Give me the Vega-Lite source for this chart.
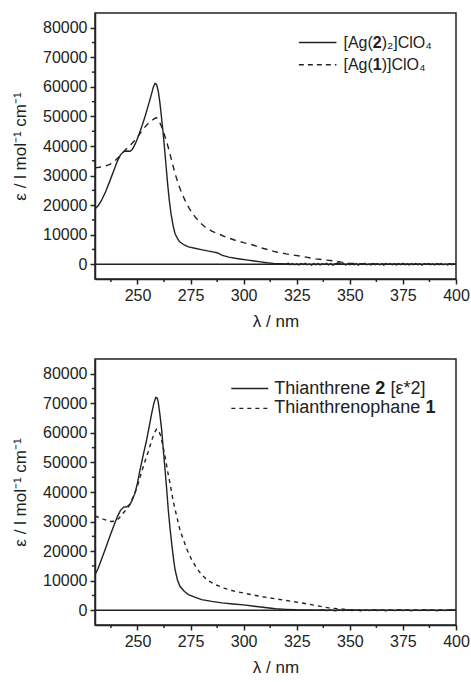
{
  "$schema": "https://vega.github.io/schema/vega-lite/v6.json",
  "padding": {"left": 10, "top": 12, "right": 0, "bottom": 0},
  "spacing": 28,
  "config": {
    "font": "Liberation Sans",
    "view": {"stroke": "#222", "strokeWidth": 1.5},
    "axis": {
      "grid": false,
      "domainColor": "#222",
      "domainWidth": 1.5,
      "tickColor": "#222",
      "tickWidth": 1.5,
      "tickSize": 5,
      "labelFont": "Liberation Sans",
      "labelFontSize": 16,
      "labelColor": "#222",
      "labelOverlap": false,
      "labelPadding": 3,
      "titleFont": "Liberation Sans",
      "titleFontSize": 17,
      "titleFontWeight": "normal",
      "titleColor": "#222"
    },
    "axisX": {"labelFlush": false, "titlePadding": 10},
    "axisY": {"format": "d", "titlePadding": 13},
    "text": {"font": "Liberation Sans", "color": "#222"}
  },
  "datasets": {
    "minorX": [{"nm": 237.5}, {"nm": 262.5}, {"nm": 287.5}, {"nm": 312.5}, {"nm": 337.5}, {"nm": 362.5}, {"nm": 387.5}],
    "minorY": [{"eps": 5000}, {"eps": 15000}, {"eps": 25000}, {"eps": 35000}, {"eps": 45000}, {"eps": 55000}, {"eps": 65000}, {"eps": 75000}],
    "top": [
      {"s": "a", "nm": 230, "eps": 18800}, {"s": "a", "nm": 231.5, "eps": 19800}, {"s": "a", "nm": 233, "eps": 21500},
      {"s": "a", "nm": 235, "eps": 24500}, {"s": "a", "nm": 237, "eps": 28200}, {"s": "a", "nm": 239, "eps": 32000},
      {"s": "a", "nm": 240.5, "eps": 34800}, {"s": "a", "nm": 242, "eps": 37000}, {"s": "a", "nm": 243.5, "eps": 38100},
      {"s": "a", "nm": 245, "eps": 38300}, {"s": "a", "nm": 246.5, "eps": 38200}, {"s": "a", "nm": 247.5, "eps": 38800},
      {"s": "a", "nm": 249, "eps": 40800}, {"s": "a", "nm": 250.5, "eps": 43500}, {"s": "a", "nm": 252, "eps": 46500},
      {"s": "a", "nm": 253.5, "eps": 49800}, {"s": "a", "nm": 255, "eps": 53500}, {"s": "a", "nm": 256.5, "eps": 57300},
      {"s": "a", "nm": 257.5, "eps": 60000}, {"s": "a", "nm": 258.3, "eps": 61200}, {"s": "a", "nm": 259, "eps": 60800},
      {"s": "a", "nm": 259.8, "eps": 58500}, {"s": "a", "nm": 260.5, "eps": 55000}, {"s": "a", "nm": 261.2, "eps": 50500},
      {"s": "a", "nm": 262, "eps": 45000}, {"s": "a", "nm": 262.7, "eps": 39600}, {"s": "a", "nm": 263.5, "eps": 33000},
      {"s": "a", "nm": 264.2, "eps": 27200}, {"s": "a", "nm": 265, "eps": 21500}, {"s": "a", "nm": 265.8, "eps": 17100},
      {"s": "a", "nm": 266.8, "eps": 13000}, {"s": "a", "nm": 267.7, "eps": 10300}, {"s": "a", "nm": 269, "eps": 8500},
      {"s": "a", "nm": 270, "eps": 7500}, {"s": "a", "nm": 272, "eps": 6500}, {"s": "a", "nm": 274, "eps": 5850},
      {"s": "a", "nm": 277, "eps": 5400}, {"s": "a", "nm": 280, "eps": 4950}, {"s": "a", "nm": 283, "eps": 4500},
      {"s": "a", "nm": 286, "eps": 4100}, {"s": "a", "nm": 287.5, "eps": 3900}, {"s": "a", "nm": 290, "eps": 3000},
      {"s": "a", "nm": 293, "eps": 2400}, {"s": "a", "nm": 296, "eps": 2000}, {"s": "a", "nm": 299, "eps": 1700},
      {"s": "a", "nm": 302, "eps": 1400}, {"s": "a", "nm": 305, "eps": 1100}, {"s": "a", "nm": 308, "eps": 800},
      {"s": "a", "nm": 311, "eps": 500}, {"s": "a", "nm": 314, "eps": 300}, {"s": "a", "nm": 317, "eps": 200},
      {"s": "a", "nm": 320, "eps": 100}, {"s": "a", "nm": 321, "eps": 300}, {"s": "a", "nm": 322, "eps": -150},
      {"s": "a", "nm": 323, "eps": 250}, {"s": "a", "nm": 324, "eps": -200}, {"s": "a", "nm": 325, "eps": 150},
      {"s": "a", "nm": 326, "eps": -250}, {"s": "a", "nm": 327, "eps": 200}, {"s": "a", "nm": 328, "eps": -100},
      {"s": "a", "nm": 329, "eps": 300}, {"s": "a", "nm": 330, "eps": -200}, {"s": "a", "nm": 331, "eps": 100},
      {"s": "a", "nm": 332, "eps": -300}, {"s": "a", "nm": 333, "eps": 250}, {"s": "a", "nm": 334, "eps": -150},
      {"s": "a", "nm": 335, "eps": 200}, {"s": "a", "nm": 336, "eps": -250}, {"s": "a", "nm": 337, "eps": 150},
      {"s": "a", "nm": 338, "eps": -100}, {"s": "a", "nm": 339, "eps": 300}, {"s": "a", "nm": 340, "eps": -200},
      {"s": "a", "nm": 341, "eps": 200}, {"s": "a", "nm": 342, "eps": -300}, {"s": "a", "nm": 343, "eps": 100},
      {"s": "a", "nm": 344, "eps": 350}, {"s": "a", "nm": 345, "eps": 400}, {"s": "a", "nm": 346, "eps": -100},
      {"s": "a", "nm": 347, "eps": 200}, {"s": "a", "nm": 348, "eps": -250}, {"s": "a", "nm": 349, "eps": 150},
      {"s": "a", "nm": 350, "eps": -200}, {"s": "a", "nm": 351, "eps": 250}, {"s": "a", "nm": 352, "eps": -150},
      {"s": "a", "nm": 353, "eps": 200}, {"s": "a", "nm": 354, "eps": -300}, {"s": "a", "nm": 355, "eps": 150},
      {"s": "a", "nm": 356, "eps": -100}, {"s": "a", "nm": 357, "eps": 300}, {"s": "a", "nm": 358, "eps": -200},
      {"s": "a", "nm": 359, "eps": 100}, {"s": "a", "nm": 360, "eps": -250}, {"s": "a", "nm": 361, "eps": 200},
      {"s": "a", "nm": 362, "eps": -150}, {"s": "a", "nm": 363, "eps": 250}, {"s": "a", "nm": 364, "eps": -200},
      {"s": "a", "nm": 365, "eps": 150}, {"s": "a", "nm": 366, "eps": -300}, {"s": "a", "nm": 367, "eps": 200},
      {"s": "a", "nm": 368, "eps": -100}, {"s": "a", "nm": 369, "eps": 250}, {"s": "a", "nm": 370, "eps": -200},
      {"s": "a", "nm": 371, "eps": 150}, {"s": "a", "nm": 372, "eps": -250}, {"s": "a", "nm": 373, "eps": 200},
      {"s": "a", "nm": 374, "eps": -150}, {"s": "a", "nm": 375, "eps": 300}, {"s": "a", "nm": 376, "eps": -200},
      {"s": "a", "nm": 377, "eps": 100}, {"s": "a", "nm": 378, "eps": -250}, {"s": "a", "nm": 379, "eps": 200},
      {"s": "a", "nm": 380, "eps": -150}, {"s": "a", "nm": 381, "eps": 250}, {"s": "a", "nm": 382, "eps": -200},
      {"s": "a", "nm": 383, "eps": 150}, {"s": "a", "nm": 384, "eps": -300}, {"s": "a", "nm": 385, "eps": 200},
      {"s": "a", "nm": 386, "eps": -100}, {"s": "a", "nm": 387, "eps": 250}, {"s": "a", "nm": 388, "eps": -200},
      {"s": "a", "nm": 389, "eps": 150}, {"s": "a", "nm": 390, "eps": -250}, {"s": "a", "nm": 391, "eps": 200},
      {"s": "a", "nm": 392, "eps": -150}, {"s": "a", "nm": 393, "eps": 250}, {"s": "a", "nm": 394, "eps": -200},
      {"s": "a", "nm": 395, "eps": 100}, {"s": "a", "nm": 396, "eps": -250}, {"s": "a", "nm": 397, "eps": 200},
      {"s": "a", "nm": 398, "eps": -150}, {"s": "a", "nm": 399, "eps": 150}, {"s": "a", "nm": 400, "eps": -100},
      {"s": "b", "nm": 230, "eps": 32600}, {"s": "b", "nm": 232, "eps": 32800}, {"s": "b", "nm": 234.5, "eps": 33100},
      {"s": "b", "nm": 237, "eps": 33800}, {"s": "b", "nm": 239.5, "eps": 35100}, {"s": "b", "nm": 242, "eps": 36800},
      {"s": "b", "nm": 244, "eps": 38500}, {"s": "b", "nm": 246.5, "eps": 40200}, {"s": "b", "nm": 248.8, "eps": 41900},
      {"s": "b", "nm": 251, "eps": 44000}, {"s": "b", "nm": 253.5, "eps": 46400}, {"s": "b", "nm": 255.5, "eps": 48000},
      {"s": "b", "nm": 257.5, "eps": 49000}, {"s": "b", "nm": 258.8, "eps": 49600}, {"s": "b", "nm": 260, "eps": 48800},
      {"s": "b", "nm": 261.4, "eps": 46400}, {"s": "b", "nm": 262.6, "eps": 44000}, {"s": "b", "nm": 263.8, "eps": 41300},
      {"s": "b", "nm": 265, "eps": 38200}, {"s": "b", "nm": 266.1, "eps": 35100}, {"s": "b", "nm": 267.5, "eps": 31200},
      {"s": "b", "nm": 269.2, "eps": 27200}, {"s": "b", "nm": 270.8, "eps": 24200}, {"s": "b", "nm": 272.4, "eps": 21600},
      {"s": "b", "nm": 274.5, "eps": 18700}, {"s": "b", "nm": 277.1, "eps": 16000}, {"s": "b", "nm": 279.5, "eps": 14100},
      {"s": "b", "nm": 281.8, "eps": 12600}, {"s": "b", "nm": 285, "eps": 11200}, {"s": "b", "nm": 288, "eps": 10300},
      {"s": "b", "nm": 292, "eps": 9100}, {"s": "b", "nm": 296, "eps": 8100}, {"s": "b", "nm": 300, "eps": 7300},
      {"s": "b", "nm": 304, "eps": 6600}, {"s": "b", "nm": 308, "eps": 5600}, {"s": "b", "nm": 311.3, "eps": 4950},
      {"s": "b", "nm": 315, "eps": 4200}, {"s": "b", "nm": 320, "eps": 3500}, {"s": "b", "nm": 327, "eps": 2700},
      {"s": "b", "nm": 334, "eps": 1800}, {"s": "b", "nm": 342.6, "eps": 1100}, {"s": "b", "nm": 346, "eps": 700},
      {"s": "b", "nm": 350, "eps": 300}, {"s": "b", "nm": 355, "eps": 150}, {"s": "b", "nm": 360, "eps": 50},
      {"s": "b", "nm": 370, "eps": 0}, {"s": "b", "nm": 400, "eps": 0}
    ],
    "bottom": [
      {"s": "c", "nm": 230, "eps": 12000}, {"s": "c", "nm": 231.5, "eps": 14200}, {"s": "c", "nm": 233, "eps": 17100},
      {"s": "c", "nm": 235, "eps": 21000}, {"s": "c", "nm": 237, "eps": 25000}, {"s": "c", "nm": 239, "eps": 28800},
      {"s": "c", "nm": 240.5, "eps": 31600}, {"s": "c", "nm": 242, "eps": 33800}, {"s": "c", "nm": 243.5, "eps": 34900},
      {"s": "c", "nm": 245, "eps": 35000}, {"s": "c", "nm": 246.5, "eps": 35800}, {"s": "c", "nm": 247.5, "eps": 37200},
      {"s": "c", "nm": 248.8, "eps": 39600}, {"s": "c", "nm": 250, "eps": 43000}, {"s": "c", "nm": 251.2, "eps": 47500},
      {"s": "c", "nm": 252.7, "eps": 52500}, {"s": "c", "nm": 254.3, "eps": 57600}, {"s": "c", "nm": 255.5, "eps": 62000},
      {"s": "c", "nm": 256.7, "eps": 66600}, {"s": "c", "nm": 257.7, "eps": 70000}, {"s": "c", "nm": 258.6, "eps": 72000},
      {"s": "c", "nm": 259.3, "eps": 71800}, {"s": "c", "nm": 259.8, "eps": 70300}, {"s": "c", "nm": 260.6, "eps": 66000},
      {"s": "c", "nm": 261.4, "eps": 61000}, {"s": "c", "nm": 262.2, "eps": 54000}, {"s": "c", "nm": 263, "eps": 47500},
      {"s": "c", "nm": 263.8, "eps": 40500}, {"s": "c", "nm": 264.5, "eps": 34000}, {"s": "c", "nm": 265.3, "eps": 28000},
      {"s": "c", "nm": 266.1, "eps": 22700}, {"s": "c", "nm": 266.9, "eps": 17800}, {"s": "c", "nm": 267.7, "eps": 13700},
      {"s": "c", "nm": 268.8, "eps": 10300}, {"s": "c", "nm": 270, "eps": 8100}, {"s": "c", "nm": 272, "eps": 6400},
      {"s": "c", "nm": 274, "eps": 5300}, {"s": "c", "nm": 277, "eps": 4400}, {"s": "c", "nm": 280.2, "eps": 3600},
      {"s": "c", "nm": 285, "eps": 3000}, {"s": "c", "nm": 289.7, "eps": 2500}, {"s": "c", "nm": 295, "eps": 2100},
      {"s": "c", "nm": 300, "eps": 1800}, {"s": "c", "nm": 305, "eps": 1350}, {"s": "c", "nm": 310, "eps": 900},
      {"s": "c", "nm": 315, "eps": 500}, {"s": "c", "nm": 320, "eps": 300}, {"s": "c", "nm": 325, "eps": 150},
      {"s": "c", "nm": 330, "eps": 80}, {"s": "c", "nm": 335, "eps": 0}, {"s": "c", "nm": 337, "eps": 150},
      {"s": "c", "nm": 339, "eps": -100}, {"s": "c", "nm": 341, "eps": 120}, {"s": "c", "nm": 343, "eps": -150},
      {"s": "c", "nm": 345, "eps": 100}, {"s": "c", "nm": 347, "eps": -120}, {"s": "c", "nm": 349, "eps": 150},
      {"s": "c", "nm": 351, "eps": -100}, {"s": "c", "nm": 353, "eps": 120}, {"s": "c", "nm": 355, "eps": -150},
      {"s": "c", "nm": 357, "eps": 100}, {"s": "c", "nm": 359, "eps": -120}, {"s": "c", "nm": 361, "eps": 150},
      {"s": "c", "nm": 363, "eps": -100}, {"s": "c", "nm": 365, "eps": 120}, {"s": "c", "nm": 367, "eps": -150},
      {"s": "c", "nm": 369, "eps": 100}, {"s": "c", "nm": 371, "eps": -120}, {"s": "c", "nm": 373, "eps": 150},
      {"s": "c", "nm": 375, "eps": -100}, {"s": "c", "nm": 377, "eps": 120}, {"s": "c", "nm": 379, "eps": -150},
      {"s": "c", "nm": 381, "eps": 100}, {"s": "c", "nm": 383, "eps": -120}, {"s": "c", "nm": 385, "eps": 150},
      {"s": "c", "nm": 387, "eps": -100}, {"s": "c", "nm": 389, "eps": 120}, {"s": "c", "nm": 391, "eps": -150},
      {"s": "c", "nm": 393, "eps": 100}, {"s": "c", "nm": 395, "eps": -120}, {"s": "c", "nm": 397, "eps": 150},
      {"s": "c", "nm": 400, "eps": 0},
      {"s": "d", "nm": 230, "eps": 31900}, {"s": "d", "nm": 232, "eps": 31300}, {"s": "d", "nm": 233.9, "eps": 30800},
      {"s": "d", "nm": 236, "eps": 30300}, {"s": "d", "nm": 237.8, "eps": 30000}, {"s": "d", "nm": 239, "eps": 30100},
      {"s": "d", "nm": 240.2, "eps": 30500}, {"s": "d", "nm": 241.5, "eps": 31300}, {"s": "d", "nm": 242.6, "eps": 32300},
      {"s": "d", "nm": 244, "eps": 33500}, {"s": "d", "nm": 245.7, "eps": 34900}, {"s": "d", "nm": 247, "eps": 36800},
      {"s": "d", "nm": 248.8, "eps": 39600}, {"s": "d", "nm": 250.5, "eps": 43200}, {"s": "d", "nm": 252, "eps": 46900},
      {"s": "d", "nm": 253.5, "eps": 50300}, {"s": "d", "nm": 255.1, "eps": 53700}, {"s": "d", "nm": 256.5, "eps": 57000},
      {"s": "d", "nm": 257.9, "eps": 59900}, {"s": "d", "nm": 259, "eps": 61300}, {"s": "d", "nm": 259.5, "eps": 61200},
      {"s": "d", "nm": 260.3, "eps": 60200}, {"s": "d", "nm": 261.1, "eps": 58700}, {"s": "d", "nm": 262, "eps": 55500},
      {"s": "d", "nm": 263, "eps": 52000}, {"s": "d", "nm": 264.2, "eps": 47000}, {"s": "d", "nm": 265.3, "eps": 43000},
      {"s": "d", "nm": 266.8, "eps": 37000}, {"s": "d", "nm": 268.5, "eps": 31700}, {"s": "d", "nm": 270, "eps": 27200},
      {"s": "d", "nm": 271.6, "eps": 23900}, {"s": "d", "nm": 273.5, "eps": 20200}, {"s": "d", "nm": 275.5, "eps": 17100},
      {"s": "d", "nm": 277.8, "eps": 14300}, {"s": "d", "nm": 280.2, "eps": 12000}, {"s": "d", "nm": 283, "eps": 10100},
      {"s": "d", "nm": 286.5, "eps": 8700}, {"s": "d", "nm": 291, "eps": 7400}, {"s": "d", "nm": 295.9, "eps": 6400},
      {"s": "d", "nm": 300, "eps": 5800}, {"s": "d", "nm": 305, "eps": 5100}, {"s": "d", "nm": 311, "eps": 4300},
      {"s": "d", "nm": 320, "eps": 3300}, {"s": "d", "nm": 327, "eps": 2500}, {"s": "d", "nm": 334, "eps": 1600},
      {"s": "d", "nm": 340, "eps": 800}, {"s": "d", "nm": 345, "eps": 450}, {"s": "d", "nm": 350, "eps": 200},
      {"s": "d", "nm": 355, "eps": 80}, {"s": "d", "nm": 360, "eps": 0}, {"s": "d", "nm": 400, "eps": 0}
    ],
    "topKey": [
      {"s": "a", "nm": 326, "nm2": 343.7, "eps": 75000},
      {"s": "b", "nm": 326, "nm2": 343.7, "eps": 67500}
    ],
    "topText": [
      {"w": "n", "nm": 347, "eps": 75000, "t": "[Ag("},
      {"w": "b", "nm": 360.8, "eps": 75000, "t": "2"},
      {"w": "n", "nm": 365.0, "eps": 75000, "t": ")₂]ClO₄"},
      {"w": "n", "nm": 347, "eps": 67500, "t": "[Ag("},
      {"w": "b", "nm": 360.8, "eps": 67500, "t": "1"},
      {"w": "n", "nm": 365.0, "eps": 67500, "t": ")]ClO₄"}
    ],
    "bottomKey": [
      {"s": "c", "nm": 294.2, "nm2": 311.6, "eps": 75000},
      {"s": "d", "nm": 294.2, "nm2": 311.6, "eps": 68300}
    ],
    "bottomText": [
      {"w": "n", "nm": 314.4, "eps": 75000, "t": "Thianthrene"},
      {"w": "b", "nm": 362.0, "eps": 75000, "t": "2"},
      {"w": "n", "nm": 369.1, "eps": 75000, "t": "[ε*2]"},
      {"w": "n", "nm": 314.4, "eps": 68300, "t": "Thianthrenophane"},
      {"w": "b", "nm": 385.6, "eps": 68300, "t": "1"}
    ]
  },
  "vconcat": [
    {
      "width": 361,
      "height": 266,
      "layer": [
        {
          "data": {"name": "top"},
          "transform": [{"filter": "datum.s === 'a'"}],
          "mark": {"type": "line", "color": "#222", "strokeWidth": 1.4, "clip": true},
          "encoding": {
            "x": {"field": "nm", "type": "quantitative", "scale": {"domain": [230, 400], "nice": false, "zero": false}, "title": "λ / nm",
              "axis": {"values": [250, 275, 300, 325, 350, 375, 400]}},
            "y": {"field": "eps", "type": "quantitative", "scale": {"domain": [-5000, 85000], "nice": false, "zero": false}, "title": "ε / l mol⁻¹ cm⁻¹"}
          }
        },
        {
          "data": {"values": [{"eps": 0}]},
          "mark": {"type": "rule", "color": "#222", "strokeWidth": 1.5},
          "encoding": {"y": {"field": "eps", "type": "quantitative", "title": "ε / l mol⁻¹ cm⁻¹"}}
        },
        {
          "data": {"name": "minorX"},
          "mark": {"type": "rule", "color": "#222", "strokeWidth": 1.5, "clip": false},
          "encoding": {
            "x": {"field": "nm", "type": "quantitative", "title": "λ / nm"},
            "y": {"datum": -5000, "type": "quantitative"},
            "y2": {"datum": -6000}
          }
        },
        {
          "data": {"name": "minorY"},
          "mark": {"type": "rule", "color": "#222", "strokeWidth": 1.5, "clip": false},
          "encoding": {
            "y": {"field": "eps", "type": "quantitative", "title": "ε / l mol⁻¹ cm⁻¹"},
            "x": {"datum": 230, "type": "quantitative"},
            "x2": {"datum": 228.6}
          }
        },
        {
          "data": {"name": "top"},
          "transform": [{"filter": "datum.s === 'b'"}],
          "mark": {"type": "line", "color": "#222", "strokeWidth": 1.4, "strokeDash": [6, 5], "clip": true},
          "encoding": {
            "x": {"field": "nm", "type": "quantitative", "title": "λ / nm"},
            "y": {"field": "eps", "type": "quantitative", "title": "ε / l mol⁻¹ cm⁻¹"}
          }
        },
        {
          "data": {"name": "topKey"},
          "transform": [{"filter": "datum.s === 'a'"}],
          "mark": {"type": "rule", "color": "#222", "strokeWidth": 1.4},
          "encoding": {
            "x": {"field": "nm", "type": "quantitative", "title": "λ / nm"},
            "x2": {"field": "nm2"},
            "y": {"field": "eps", "type": "quantitative", "title": "ε / l mol⁻¹ cm⁻¹"}
          }
        },
        {
          "data": {"name": "topKey"},
          "transform": [{"filter": "datum.s === 'b'"}],
          "mark": {"type": "rule", "color": "#222", "strokeWidth": 1.4, "strokeDash": [5, 4]},
          "encoding": {
            "x": {"field": "nm", "type": "quantitative", "title": "λ / nm"},
            "x2": {"field": "nm2"},
            "y": {"field": "eps", "type": "quantitative", "title": "ε / l mol⁻¹ cm⁻¹"}
          }
        },
        {
          "data": {"name": "topText"},
          "transform": [{"filter": "datum.w === 'n'"}],
          "mark": {"type": "text", "align": "left", "baseline": "middle", "fontSize": 16, "color": "#222"},
          "encoding": {
            "x": {"field": "nm", "type": "quantitative", "title": "λ / nm"},
            "y": {"field": "eps", "type": "quantitative", "title": "ε / l mol⁻¹ cm⁻¹"},
            "text": {"field": "t"}
          }
        },
        {
          "data": {"name": "topText"},
          "transform": [{"filter": "datum.w === 'b'"}],
          "mark": {"type": "text", "align": "left", "baseline": "middle", "fontSize": 16, "fontWeight": "bold", "color": "#222"},
          "encoding": {
            "x": {"field": "nm", "type": "quantitative", "title": "λ / nm"},
            "y": {"field": "eps", "type": "quantitative", "title": "ε / l mol⁻¹ cm⁻¹"},
            "text": {"field": "t"}
          }
        }
      ]
    },
    {
      "width": 361,
      "height": 266,
      "layer": [
        {
          "data": {"name": "bottom"},
          "transform": [{"filter": "datum.s === 'c'"}],
          "mark": {"type": "line", "color": "#222", "strokeWidth": 1.4, "clip": true},
          "encoding": {
            "x": {"field": "nm", "type": "quantitative", "scale": {"domain": [230, 400], "nice": false, "zero": false}, "title": "λ / nm",
              "axis": {"values": [250, 275, 300, 325, 350, 375, 400]}},
            "y": {"field": "eps", "type": "quantitative", "scale": {"domain": [-5000, 85000], "nice": false, "zero": false}, "title": "ε / l mol⁻¹ cm⁻¹"}
          }
        },
        {
          "data": {"values": [{"eps": 0}]},
          "mark": {"type": "rule", "color": "#222", "strokeWidth": 1.5},
          "encoding": {"y": {"field": "eps", "type": "quantitative", "title": "ε / l mol⁻¹ cm⁻¹"}}
        },
        {
          "data": {"name": "minorX"},
          "mark": {"type": "rule", "color": "#222", "strokeWidth": 1.5, "clip": false},
          "encoding": {
            "x": {"field": "nm", "type": "quantitative", "title": "λ / nm"},
            "y": {"datum": -5000, "type": "quantitative"},
            "y2": {"datum": -6000}
          }
        },
        {
          "data": {"name": "minorY"},
          "mark": {"type": "rule", "color": "#222", "strokeWidth": 1.5, "clip": false},
          "encoding": {
            "y": {"field": "eps", "type": "quantitative", "title": "ε / l mol⁻¹ cm⁻¹"},
            "x": {"datum": 230, "type": "quantitative"},
            "x2": {"datum": 228.6}
          }
        },
        {
          "data": {"name": "bottom"},
          "transform": [{"filter": "datum.s === 'd'"}],
          "mark": {"type": "line", "color": "#222", "strokeWidth": 1.4, "strokeDash": [4, 4], "clip": true},
          "encoding": {
            "x": {"field": "nm", "type": "quantitative", "title": "λ / nm"},
            "y": {"field": "eps", "type": "quantitative", "title": "ε / l mol⁻¹ cm⁻¹"}
          }
        },
        {
          "data": {"name": "bottomKey"},
          "transform": [{"filter": "datum.s === 'c'"}],
          "mark": {"type": "rule", "color": "#222", "strokeWidth": 1.4},
          "encoding": {
            "x": {"field": "nm", "type": "quantitative", "title": "λ / nm"},
            "x2": {"field": "nm2"},
            "y": {"field": "eps", "type": "quantitative", "title": "ε / l mol⁻¹ cm⁻¹"}
          }
        },
        {
          "data": {"name": "bottomKey"},
          "transform": [{"filter": "datum.s === 'd'"}],
          "mark": {"type": "rule", "color": "#222", "strokeWidth": 1.4, "strokeDash": [4, 4]},
          "encoding": {
            "x": {"field": "nm", "type": "quantitative", "title": "λ / nm"},
            "x2": {"field": "nm2"},
            "y": {"field": "eps", "type": "quantitative", "title": "ε / l mol⁻¹ cm⁻¹"}
          }
        },
        {
          "data": {"name": "bottomText"},
          "transform": [{"filter": "datum.w === 'n'"}],
          "mark": {"type": "text", "align": "left", "baseline": "middle", "fontSize": 18, "color": "#222"},
          "encoding": {
            "x": {"field": "nm", "type": "quantitative", "title": "λ / nm"},
            "y": {"field": "eps", "type": "quantitative", "title": "ε / l mol⁻¹ cm⁻¹"},
            "text": {"field": "t"}
          }
        },
        {
          "data": {"name": "bottomText"},
          "transform": [{"filter": "datum.w === 'b'"}],
          "mark": {"type": "text", "align": "left", "baseline": "middle", "fontSize": 18, "fontWeight": "bold", "color": "#222"},
          "encoding": {
            "x": {"field": "nm", "type": "quantitative", "title": "λ / nm"},
            "y": {"field": "eps", "type": "quantitative", "title": "ε / l mol⁻¹ cm⁻¹"},
            "text": {"field": "t"}
          }
        }
      ]
    }
  ]
}
